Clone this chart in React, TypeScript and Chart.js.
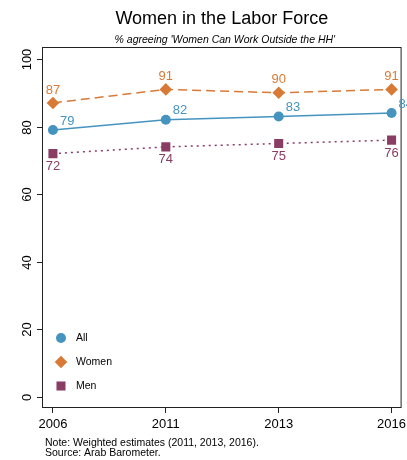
import React, { useEffect, useRef } from 'react';
import { Chart, registerables } from 'chart.js';

Chart.register(...registerables);

const FONT = "'Liberation Sans', Arial, Helvetica, sans-serif";

const chartTitle = 'Women in the Labor Force';
const chartSubtitle = "% agreeing 'Women Can Work Outside the HH'";
const years = ['2006', '2011', '2013', '2016'];
const seriesNames = ['All', 'Women', 'Men'];
const allValues = [79, 82, 83, 84];
const womenValues = [87, 91, 90, 91];
const menValues = [72, 74, 75, 76];
const yTickValues = [0, 20, 40, 60, 80, 100];
const noteLines = ['Note: Weighted estimates (2011, 2013, 2016).', 'Source: Arab Barometer.'];

const BLUE = '#4593bf';
const ORANGE = '#d87a36';
const PURPLE = '#8a3d64';
const AXIS = '#222';

const toPoints = (vals: number[]) => vals.map((v, i) => ({ x: i, y: v }));

function drawMarker(ctx: CanvasRenderingContext2D, style: string, x: number, y: number, r: number) {
  ctx.beginPath();
  if (style === 'circle') {
    ctx.arc(x, y, r, 0, Math.PI * 2);
  } else if (style === 'rectRot') {
    ctx.moveTo(x, y - r);
    ctx.lineTo(x + r, y);
    ctx.lineTo(x, y + r);
    ctx.lineTo(x - r, y);
    ctx.closePath();
  } else {
    const s = r * Math.SQRT1_2;
    ctx.rect(x - s, y - s, 2 * s, 2 * s);
  }
  ctx.fill();
}

const labelPlacement = [
  { dx: 7, dy: -9, align: 'left' as CanvasTextAlign },
  { dx: 0, dy: -13, align: 'center' as CanvasTextAlign },
  { dx: 0, dy: 13, align: 'center' as CanvasTextAlign },
];

const decorPlugin = {
  id: 'decor',
  beforeDraw(chart: any) {
    const ctx = chart.ctx;
    ctx.save();
    ctx.fillStyle = '#fff';
    ctx.fillRect(0, 0, chart.width, chart.height);
    ctx.restore();
  },
  afterDraw(chart: any) {
    const ctx: CanvasRenderingContext2D = chart.ctx;
    const a = chart.chartArea;
    const cx = (a.left + a.right) / 2;
    ctx.save();
    // titles
    ctx.fillStyle = '#000';
    ctx.textAlign = 'center';
    ctx.textBaseline = 'middle';
    ctx.font = `18px ${FONT}`;
    ctx.fillText(chartTitle, cx, 19);
    ctx.font = `italic 10.5px ${FONT}`;
    ctx.fillText(chartSubtitle, cx + 3, 40);

    // plot box
    ctx.strokeStyle = AXIS;
    ctx.lineWidth = 1;
    ctx.strokeRect(a.left - 0.5, a.top - 0.5, a.right - a.left + 1, a.bottom - a.top + 1);

    // y tick marks and labels (rotated)
    const ys = chart.scales.y;
    ctx.font = `13px ${FONT}`;
    ctx.fillStyle = '#000';
    yTickValues.forEach((v) => {
      const py = Math.round(ys.getPixelForValue(v)) + 0.5;
      ctx.beginPath();
      ctx.moveTo(a.left - 6, py);
      ctx.lineTo(a.left, py);
      ctx.stroke();
      ctx.save();
      ctx.translate(a.left - 16, py);
      ctx.rotate(-Math.PI / 2);
      ctx.textAlign = 'center';
      ctx.textBaseline = 'middle';
      ctx.fillText(String(v), 0, 0);
      ctx.restore();
    });

    // data labels
    ctx.font = `13px ${FONT}`;
    ctx.textBaseline = 'middle';
    chart.data.datasets.forEach((ds: any, i: number) => {
      const meta = chart.getDatasetMeta(i);
      const pl = labelPlacement[i];
      ctx.fillStyle = ds.borderColor;
      ctx.textAlign = pl.align;
      meta.data.forEach((pt: any, j: number) => {
        const v = ds.data[j].y;
        ctx.fillText(String(v), pt.x + pl.dx, pt.y + pl.dy);
      });
    });

    // legend
    const legendRows = [a.bottom - 69, a.bottom - 45, a.bottom - 21];
    chart.data.datasets.forEach((ds: any, i: number) => {
      const y = legendRows[i];
      ctx.fillStyle = ds.backgroundColor;
      drawMarker(ctx, ds.pointStyle, a.left + 18, y, ds.pointRadius);
      ctx.fillStyle = '#000';
      ctx.font = `10.5px ${FONT}`;
      ctx.textAlign = 'left';
      ctx.textBaseline = 'middle';
      ctx.fillText(ds.label, a.left + 33, y);
    });

    // notes
    ctx.font = `10.5px ${FONT}`;
    ctx.fillStyle = '#000';
    ctx.textAlign = 'left';
    ctx.textBaseline = 'middle';
    noteLines.forEach((line, i) => {
      ctx.fillText(line, 45, 443 + i * 10);
    });
    ctx.restore();
  },
};

export default function App() {
  const canvasRef = useRef<HTMLCanvasElement | null>(null);

  useEffect(() => {
    const canvas = canvasRef.current;
    if (!canvas) return;
    const chart = new Chart(canvas, {
      type: 'line',
      data: {
        datasets: [
          {
            label: seriesNames[0],
            data: toPoints(allValues),
            borderColor: BLUE,
            backgroundColor: BLUE,
            borderWidth: 1.5,
            pointStyle: 'circle',
            pointRadius: 5,
            pointBorderWidth: 0,
            tension: 0,
          },
          {
            label: seriesNames[1],
            data: toPoints(womenValues),
            borderColor: ORANGE,
            backgroundColor: ORANGE,
            borderWidth: 1.5,
            borderDash: [9, 5],
            pointStyle: 'rectRot',
            pointRadius: 6.3,
            pointBorderWidth: 0,
            tension: 0,
          },
          {
            label: seriesNames[2],
            data: toPoints(menValues),
            borderColor: PURPLE,
            backgroundColor: PURPLE,
            borderWidth: 1.5,
            borderDash: [2, 4],
            pointStyle: 'rect',
            pointRadius: 6.4,
            pointBorderWidth: 0,
            tension: 0,
          },
        ] as any,
      },
      options: {
        responsive: false,
        animation: false,
        devicePixelRatio: 1,
        layout: { padding: { left: 0, top: 48, right: 6, bottom: 0 } },
        plugins: {
          legend: { display: false },
          title: { display: false },
          tooltip: { enabled: false },
        },
        scales: {
          x: {
            type: 'linear',
            min: -0.088,
            max: 3.08,
            afterBuildTicks: (s: any) => {
              s.ticks = years.map((_, i) => ({ value: i }));
            },
            afterFit: (s: any) => {
              s.height = 53;
              s.paddingLeft = 0;
              s.paddingRight = 0;
            },
            ticks: {
              callback: (v: any) => years[v] ?? '',
              font: { family: FONT, size: 13 },
              color: '#000',
              padding: 4,
              maxRotation: 0,
              minRotation: 0,
              autoSkip: false,
            },
            grid: { drawOnChartArea: false, drawTicks: true, tickLength: 6, color: AXIS },
            border: { display: false },
          },
          y: {
            type: 'linear',
            min: -2.96,
            max: 103.25,
            afterBuildTicks: (s: any) => {
              s.ticks = yTickValues.map((v) => ({ value: v }));
            },
            afterFit: (s: any) => {
              s.width = 43;
              s.paddingTop = 0;
              s.paddingBottom = 0;
            },
            ticks: { color: 'rgba(0,0,0,0)', font: { family: FONT, size: 13 } },
            grid: { display: false },
            border: { display: false },
          },
        },
      } as any,
      plugins: [decorPlugin],
    });
    return () => chart.destroy();
  }, []);

  return (
    <div style={{ position: 'fixed', left: 0, top: 0, width: 407, height: 460, background: '#fff' }}>
      <canvas ref={canvasRef} width={407} height={460} />
    </div>
  );
}
